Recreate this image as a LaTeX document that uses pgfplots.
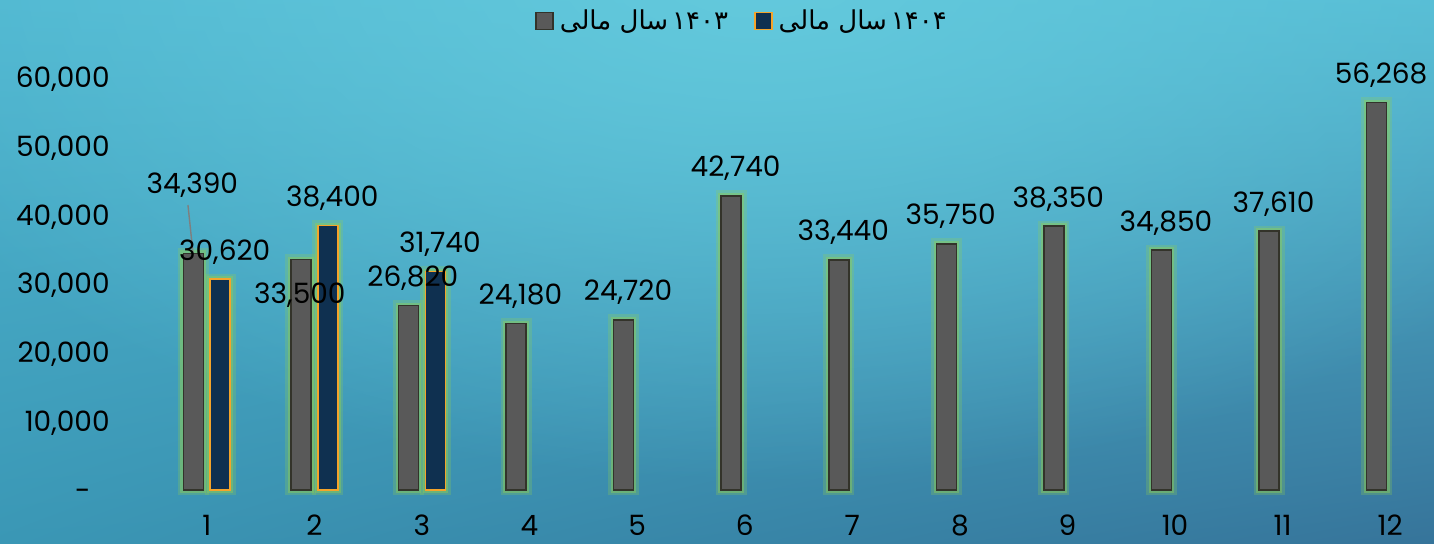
\documentclass[border=0pt]{standalone}
\usepackage{fontspec}
\setmainfont{Poppins}
\newfontfamily\arabicfont[Script=Arabic]{DejaVu Sans}
\TeXXeTstate=1
\usepackage{pgfplots}
\pgfplotsset{compat=1.18}
\usepackage{pgfplotstable}
\usetikzlibrary{fadings,shadings}

\definecolor{bgTL}{HTML}{4FB6D0}
\definecolor{bgTR}{HTML}{54BAD3}
\definecolor{bgBL}{HTML}{3A97B5}
\definecolor{bgBR}{HTML}{36749A}
\definecolor{bgC}{HTML}{64CADD}
\definecolor{barGray}{HTML}{595959}
\definecolor{barGrayEdge}{HTML}{33332A}
\definecolor{barNavy}{HTML}{0F3050}
\definecolor{barOrange}{HTML}{F5A42A}
\definecolor{glow}{HTML}{92D050}
\definecolor{leader}{HTML}{7F7F7F}

\tikzfading[name=softglow, inner color=transparent!0, outer color=transparent!100]

\pgfplotstableread{
x y dx dy
1 34390 -2.7 20.5
2 33500 -2.7 -31.5
3 26820 0 0
4 24180 0 0
5 24720 0 0
6 42740 0 0
7 33440 0 0
8 35750 0 0
9 38350 0 0
10 34850 0 0
11 37610 0 0
12 56268 0 0
}\tblA

\pgfplotstableread{
x y
1 30620
2 38400
3 31740
}\tblB

\begin{document}
\begin{tikzpicture}
\useasboundingbox (0,0) rectangle (717pt,272pt);
\begin{scope}
\clip (0,0) rectangle (717pt,272pt);
\shade[upper left=bgTL, upper right=bgTR, lower left=bgBL, lower right=bgBR] (0,0) rectangle (717pt,272pt);
\fill[bgC, path fading=softglow, fit fading=true] (380pt,290pt) ellipse [x radius=480pt, y radius=260pt];
\end{scope}
\begin{axis}[
  at={(76.5pt,27pt)}, anchor=south west,
  scale only axis, width=645.5pt, height=206.5pt,
  xmin=0.5, xmax=12.5, ymin=0, ymax=60000,
  axis line style={draw=none}, tick style={draw=none}, major tick length=0pt,
  xtick={1,...,12}, ytick={0,10000,...,60000},
  yticklabels={{-\hspace*{9.5pt}},{10,000},{20,000},{30,000},{40,000},{50,000},{60,000}},
  scaled y ticks=false, scaled x ticks=false,
  clip=false,
  ybar, bar width=10pt,
  /pgf/number format/1000 sep={,},
  /pgf/number format/fixed,
  /pgf/number format/precision=0,
  /pgf/number format/assume math mode=true,
  every tick label/.append style={font=\fontsize{14}{16}\selectfont},
  xticklabel style={anchor=base, yshift=-23pt, inner sep=0pt},
  yticklabel style={anchor=base east, inner sep=0pt, xshift=-21.5pt, yshift=-5.2pt},
  legend columns=2,
  legend style={at={(0.2959,1.1356)}, anchor=west, draw=none, fill=none, inner sep=0pt,
    font=\fontsize{13}{15}\selectfont, nodes={inner sep=0pt},
    /tikz/every odd column/.style={column sep=3pt},
    /tikz/every even column/.style={column sep=13pt}},
]
% glow layers
\addplot[forget plot, draw=glow, draw opacity=0.25, line width=5.5pt, fill=none, bar shift=-6.75pt] table[x=x,y=y]{\tblA};
\addplot[forget plot, draw=glow, draw opacity=0.4, line width=2.8pt, fill=none, bar shift=-6.75pt] table[x=x,y=y]{\tblA};
\addplot[forget plot, draw=glow, draw opacity=0.25, line width=5.5pt, fill=none, bar shift=6.75pt] table[x=x,y=y]{\tblB};
\addplot[forget plot, draw=glow, draw opacity=0.4, line width=2.8pt, fill=none, bar shift=6.75pt] table[x=x,y=y]{\tblB};
% main bars
\addplot[fill=barGray, draw=barGrayEdge, line width=0.75pt, bar shift=-6.75pt,
  legend image code/.code={\draw[fill=barGray,draw=barGrayEdge,line width=0.75pt] (0pt,-4.25pt) rectangle (8.5pt,4.25pt);},
  nodes near coords,
  visualization depends on={\thisrow{dx}\as\ldx},
  visualization depends on={\thisrow{dy}\as\ldy},
  every node near coord/.append style={anchor=base, inner sep=0pt, font=\fontsize{14}{16}\selectfont, text=black, xshift=2.2pt, yshift=9.5pt, xshift=\ldx pt, yshift=\ldy pt}
] table[x=x,y=y]{\tblA};
\addlegendentry{\arabicfont\beginR\beginL ۱۴۰۳\endL\kern2pt سال مالی\endR}
\addplot[fill=barNavy, draw=barOrange, line width=0.8pt, bar shift=6.75pt,
  legend image code/.code={\draw[fill=barNavy,draw=barOrange,line width=0.8pt] (0pt,-4.25pt) rectangle (8.5pt,4.25pt);},
  nodes near coords,
  every node near coord/.append style={anchor=base, inner sep=0pt, font=\fontsize{14}{16}\selectfont, text=black, xshift=2.2pt, yshift=9.5pt}
] table[x=x,y=y]{\tblB};
\addlegendentry{\arabicfont\beginR\beginL ۱۴۰۴\endL\kern2pt سال مالی\endR}
\draw[leader, line width=0.7pt] (axis cs:0.825,41400) -- (axis cs:0.872,34400);
\end{axis}
\end{tikzpicture}
\end{document}
